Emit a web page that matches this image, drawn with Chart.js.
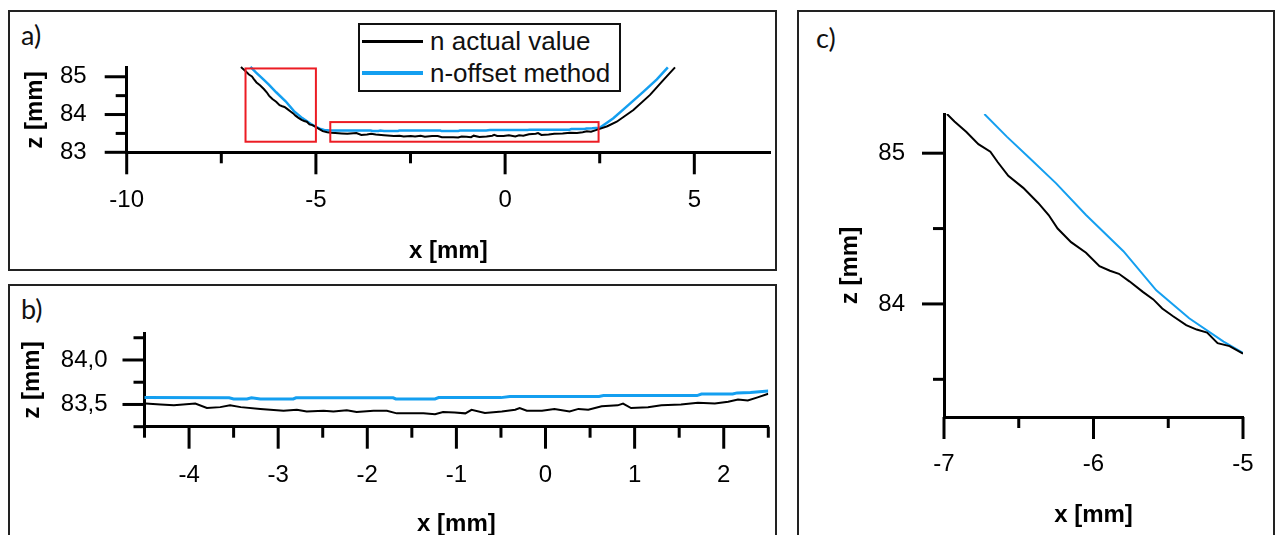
<!DOCTYPE html>
<html>
<head>
<meta charset="utf-8">
<script src="https://cdn.jsdelivr.net/npm/chart.js@4.4.0/dist/chart.umd.min.js"></script>
<style>
  body { margin: 0; width: 1277px; height: 535px; overflow: hidden; background: #fff; position: relative; font-family: 'Liberation Sans', Arial, sans-serif; }
  .panel { position: absolute; border: 2px solid #222; box-sizing: border-box; }
  .tag { position: absolute; font-family: Lato, 'Open Sans', sans-serif; font-size: 27px; line-height: 30px; color: #111; }
  canvas { position: absolute; left: 0; top: 0; }
  #legend { position: absolute; left: 358px; top: 23px; width: 263px; height: 69px; border: 2px solid #111; box-sizing: border-box; background: #fff; }
  .row { position: absolute; left: 0; height: 30px; display: flex; align-items: center; font-size: 26px; line-height: 30px; white-space: nowrap; color: #111; }
  .swatch { width: 61px; margin-left: 2px; margin-right: 7px; }
</style>
</head>
<body>
<div class="panel" style="left:8px;top:10px;width:769px;height:261px"></div>
<div class="panel" style="left:8px;top:284px;width:769px;height:300px"></div>
<div class="panel" style="left:797px;top:10px;width:478px;height:600px"></div>
<div class="tag" style="left:21px;top:20px">a)</div>
<div class="tag" style="left:21px;top:294px">b)</div>
<div class="tag" style="left:816px;top:23px">c)</div>
<canvas id="chartA" width="1277" height="560"></canvas>
<canvas id="chartB" width="1277" height="560"></canvas>
<canvas id="chartC" width="1277" height="560"></canvas>
<div id="legend"></div>

<script>
// profil gemessen (n actual value)
const actualX = [-6.98, -6.93, -6.85, -6.77, -6.69, -6.64, -6.57, -6.47, -6.37, -6.30, -6.24, -6.15, -6.05, -5.96, -5.89, -5.83, -5.76, -5.67, -5.60, -5.54, -5.47, -5.38, -5.31, -5.24, -5.17, -5.09, -5.00,
  -4.92, -4.82, -4.70, -4.60,
  -4.49, -4.32, -4.17, -3.93, -3.80, -3.65, -3.54, -3.42, -3.20, -2.94, -2.79, -2.68, -2.49, -2.38, -2.23, -2.12, -1.93, -1.78, -1.67, -1.37, -1.24, -1.15, -1.02, -0.90, -0.83, -0.68, -0.49, -0.34, -0.29, -0.21, -0.04,
  0.10, 0.27, 0.37, 0.48, 0.63, 0.81, 0.87, 0.96, 1.15, 1.30, 1.52, 1.71, 1.90, 2.05, 2.16, 2.27, 2.38, 2.50,
  2.70, 2.95, 3.39, 3.83, 4.18, 4.49];
const actualZ = [85.26, 85.21, 85.14, 85.06, 85.01, 84.94, 84.85, 84.77, 84.67, 84.59, 84.50, 84.41, 84.34, 84.25, 84.22, 84.20, 84.15, 84.08, 84.03, 83.97, 83.92, 83.86, 83.83, 83.81, 83.74, 83.72, 83.67,
  83.62, 83.56, 83.53, 83.515,
  83.51, 83.50, 83.49, 83.51, 83.46, 83.47, 83.49, 83.47, 83.45, 83.43, 83.44, 83.42, 83.43, 83.42, 83.435, 83.415, 83.43, 83.43, 83.40, 83.40, 83.39, 83.415, 83.41, 83.40, 83.44, 83.405, 83.42, 83.44, 83.46, 83.43, 83.43,
  83.45, 83.42, 83.45, 83.44, 83.48, 83.49, 83.51, 83.46, 83.47, 83.49, 83.50, 83.52, 83.51, 83.53, 83.555, 83.545, 83.58, 83.62,
  83.69, 83.81, 84.12, 84.52, 84.91, 85.25];

// n-offset Methode
const offsetX = [-6.73, -6.58, -6.43, -6.25, -6.05, -5.80, -5.58, -5.36, -5.13, -5.00, -4.90, -4.78, -4.62, -4.50,
  -3.55, -3.50, -3.35, -3.30, -3.20, -2.83, -2.80, -1.71, -1.68, -1.24, -1.20, -0.50, -0.40, 0.60, 0.65, 1.70, 1.75, 2.10, 2.15, 2.30, 2.50,
  2.86, 3.21, 3.65, 4.01, 4.30];
const offsetZ = [85.26, 85.11, 84.97, 84.80, 84.59, 84.35, 84.09, 83.905, 83.75, 83.675, 83.625, 83.59, 83.578, 83.577,
  83.575, 83.562, 83.562, 83.575, 83.562, 83.562, 83.575, 83.575, 83.562, 83.562, 83.577, 83.577, 83.59, 83.59, 83.60, 83.60, 83.617, 83.617, 83.63, 83.635, 83.65,
  83.90, 84.21, 84.60, 84.93, 85.25];

// rote Rahmen in Bild a (Ausschnitte b und c)
const boxX = [[-6.86, -5.0], [-4.62, 2.47]];
const boxZ = [[83.28, 85.22], [83.28, 83.8]];

// Achsenteilung
const aXMajor = [-10, -5, 0, 5], aXMinor = [-7.5, -2.5, 2.5];
const aYMajor = [83, 84, 85], aYMinor = [83.5, 84.5];
const bXMajor = [-4, -3, -2, -1, 0, 1, 2], bXMinor = [-4.5, -3.5, -2.5, -1.5, -0.5, 0.5, 1.5, 2.5];
const bYMajor = [83.5, 84.0], bYMinor = [83.25, 83.75, 84.25];
const cXMajor = [-7, -6, -5], cXMinor = [-6.5, -5.5];
const cYMajor = [84, 85], cYMinor = [83.5, 84.5];

const FONT = "'Liberation Sans', Arial, sans-serif";
const BLUE = '#149ff0';

// Striche an den Achsen selbst zeichnen (lang = beschriftet, kurz = Zwischenstrich)
const tickMarks = {
  id: 'tickMarks',
  afterDraw(chart, args, opts) {
    const ctx = chart.ctx;
    ctx.save();
    ctx.strokeStyle = '#000';
    ctx.lineWidth = opts.width;
    [chart.scales.x, chart.scales.y].forEach(scale => {
      scale.ticks.forEach(t => {
        const len = t.label === '' ? opts.minor : opts.major;
        const p = scale.getPixelForValue(t.value);
        ctx.beginPath();
        if (scale.isHorizontal()) {
          ctx.moveTo(p, scale.top);
          ctx.lineTo(p, scale.top + len);
        } else {
          ctx.moveTo(scale.right, p);
          ctx.lineTo(scale.right - len, p);
        }
        ctx.stroke();
      });
    });
    ctx.restore();
  }
};

const zoomBoxes = {
  id: 'zoomBoxes',
  afterDatasetsDraw(chart, args, opts) {
    if (!opts.show) return;
    const {ctx, scales: {x, y}} = chart;
    ctx.save();
    ctx.strokeStyle = '#ec1c24';
    ctx.lineWidth = 2;
    boxX.forEach((bx, i) => {
      const x0 = x.getPixelForValue(bx[0]), x1 = x.getPixelForValue(bx[1]);
      const y0 = y.getPixelForValue(boxZ[i][1]), y1 = y.getPixelForValue(boxZ[i][0]);
      ctx.strokeRect(x0, y0, x1 - x0, y1 - y0);
    });
    ctx.restore();
  }
};

// Abstand der Beschriftung kommt aus einer unsichtbaren Strichlaenge,
// sonst schiebt ticks.padding die Zeichenflaeche nach innen
function axis(o) {
  const values = o.major.concat(o.minor).sort((a, b) => a - b);
  return {
    type: 'linear',
    position: o.pos,
    min: o.min,
    max: o.max,
    grid: { display: true, drawOnChartArea: false, drawTicks: true, tickLength: o.tickPad, tickColor: 'rgba(0,0,0,0)' },
    border: { display: true, color: '#000', width: 3 },
    ticks: {
      padding: 0,
      autoSkip: false,
      maxRotation: 0,
      includeBounds: false,
      color: '#000',
      font: { family: FONT, size: 24 },
      callback: v => o.major.includes(v) ? o.fmt(v) : ''
    },
    afterBuildTicks: s => { s.ticks = values.map(v => ({ value: v })); },
    afterFit: s => { if (o.pos === 'bottom') s.height = o.size; else s.width = o.size; },
    title: {
      display: true,
      text: o.title,
      color: '#000',
      font: { family: FONT, size: 24, weight: 'bold' },
      padding: o.titlePad
    }
  };
}

const plain = v => String(v);
const comma = v => v.toFixed(1).replace('.', ',');

function makeChart(id, c) {
  const ds = (label, xs, zs, color, w) => ({
    label,
    data: xs.map((x, i) => ({ x, y: zs[i] })),
    borderColor: color,
    backgroundColor: color,
    borderWidth: w,
    pointRadius: 0,
    tension: 0,
    fill: false,
    clip: c.clip
  });
  return new Chart(document.getElementById(id), {
    type: 'line',
    data: {
      datasets: [
        ds('n actual value', actualX, actualZ, '#000', c.lw[0]),
        ds('n-offset method', offsetX, offsetZ, BLUE, c.lw[1])
      ]
    },
    options: {
      responsive: false,
      animation: false,
      events: [],
      devicePixelRatio: 1,
      layout: { padding: c.pad },
      plugins: {
        legend: { display: false },
        tooltip: { enabled: false },
        tickMarks: { major: 22, minor: 11, width: 3 },
        zoomBoxes: { show: !!c.boxes }
      },
      scales: { x: c.x, y: c.y }
    },
    plugins: [tickMarks, zoomBoxes]
  });
}

const chartA = makeChart('chartA', {
  pad: { left: 0, top: 67.7, right: 507, bottom: 292 },
  lw: [2, 2.5], clip: 2, boxes: true,
  x: axis({ pos: 'bottom', min: -10, max: 7, major: aXMajor, minor: aXMinor, fmt: plain, size: 115.7, tickPad: 34, title: 'x [mm]', titlePad: { top: 0, bottom: 2.6 } }),
  y: axis({ pos: 'left', min: 83, max: 85.24, major: aYMajor, minor: aYMinor, fmt: plain, size: 126.7, tickPad: 40, title: 'z [mm]', titlePad: { top: 20.6, bottom: 0 } })
});

makeChart('chartB', {
  pad: { left: 0, top: 333.3, right: 508.7, bottom: 15 },
  lw: [2, 3], clip: 0,
  x: axis({ pos: 'bottom', min: -4.5, max: 2.5, major: bXMajor, minor: bXMinor, fmt: plain, size: 118.3, tickPad: 34, title: 'x [mm]', titlePad: { top: 0, bottom: 6.6 } }),
  y: axis({ pos: 'left', min: 83.25, max: 84.3, major: bYMajor, minor: bYMinor, fmt: comma, size: 144.5, tickPad: 37, title: 'z [mm]', titlePad: { top: 18, bottom: 0 } })
});

makeChart('chartC', {
  pad: { left: 797, top: 114, right: 34, bottom: 30 },
  lw: [2, 2], clip: 0,
  x: axis({ pos: 'bottom', min: -7, max: -5, major: cXMajor, minor: cXMinor, fmt: plain, size: 113, tickPad: 32.6, title: 'x [mm]', titlePad: { top: 0, bottom: 0.6 } }),
  y: axis({ pos: 'left', min: 83.25, max: 85.26, major: cYMajor, minor: cYMinor, fmt: plain, size: 147, tickPad: 39, title: 'z [mm]', titlePad: { top: 38.6, bottom: 0 } })
});

// Legende als Kasten oben in Bild a
const legendBox = document.getElementById('legend');
chartA.data.datasets.forEach((d, i) => {
  const row = document.createElement('div');
  row.className = 'row';
  row.style.top = (1 + i * 32) + 'px';
  const sw = document.createElement('span');
  sw.className = 'swatch';
  sw.style.borderTop = (i === 0 ? 3 : 4) + 'px solid ' + d.borderColor;
  const txt = document.createElement('span');
  txt.textContent = d.label;
  row.appendChild(sw);
  row.appendChild(txt);
  legendBox.appendChild(row);
});
</script>
</body>
</html>
